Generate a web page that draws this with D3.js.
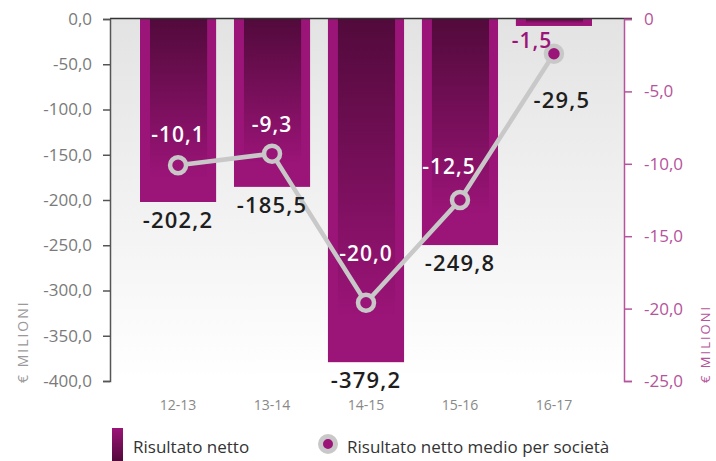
<!DOCTYPE html>
<html><head><meta charset="utf-8">
<script src="https://cdn.jsdelivr.net/npm/d3@7"></script>
<style>
html,body{margin:0;padding:0;background:#fff;}
svg{display:block;font-family:"Open Sans",sans-serif;}
</style></head>
<body><svg id="c" width="716" height="461"></svg>
<script>
const categories = ["12-13","13-14","14-15","15-16","16-17"];
const barValues = [-202.2,-185.5,-379.2,-249.8,-7.7];
const barLabels = ["-202,2","-185,5","-379,2","-249,8","-29,5"];
const pointValues = [-10.1,-9.3,-19.6,-12.5,-2.4];
const pointLabels = ["-10,1","-9,3","-20,0","-12,5","-1,5"];
const leftTicks = [0,-50,-100,-150,-200,-250,-300,-350,-400];
const rightTicks = [0,-5,-10,-15,-20,-25];
const axisTitle = "€ MILIONI";
const legendLabels = ["Risultato netto","Risultato netto medio per società"];

const svg = d3.select("#c");
const M = {left:110, right:624, top:19, bottom:381};
const magenta = "#9b1478", dark = "#520a3b", grayLine = "#c8c8c8", pink = "#b5539b";

const x = d3.scaleBand().domain(categories).range([140,592]).paddingInner(0.19).paddingOuter(0);
const yL = d3.scaleLinear().domain([-400,0]).range([M.bottom,M.top]);
const yR = d3.scaleLinear().domain([-25,0]).range([M.bottom,M.top]);
const itFmt = d => d3.format(".1f")(d).replace(".",",").replace("−","-");

const defs = svg.append("defs");
const bg = defs.append("linearGradient").attr("id","bg").attr("x1",0).attr("y1",0).attr("x2",0).attr("y2",1);
bg.append("stop").attr("offset","0%").attr("stop-color","#e3e3e3");
bg.append("stop").attr("offset","100%").attr("stop-color","#ffffff");
const ig = defs.append("linearGradient").attr("id","inner").attr("x1",0).attr("y1",0).attr("x2",0).attr("y2",1);
ig.append("stop").attr("offset","0%").attr("stop-color",dark);
ig.append("stop").attr("offset","92%").attr("stop-color",magenta);
const lg = defs.append("linearGradient").attr("id","leg").attr("x1",0).attr("y1",0).attr("x2",0).attr("y2",1);
lg.append("stop").attr("offset","0%").attr("stop-color",magenta);
lg.append("stop").attr("offset","100%").attr("stop-color",dark);

// background
svg.append("rect").attr("x",M.left).attr("y",M.top).attr("width",M.right-M.left).attr("height",M.bottom-M.top).attr("fill","url(#bg)");

// bars
const bw = x.bandwidth();
const bars = svg.append("g").selectAll("g").data(categories).join("g");
bars.append("rect").attr("x",d=>x(d)).attr("y",yL(0))
  .attr("width",bw).attr("height",(d,i)=>yL(barValues[i])-yL(0)).attr("fill",magenta);
bars.append("rect").attr("x",d=>x(d)+10).attr("y",yL(0))
  .attr("width",bw-19).attr("height",(d,i)=>Math.max(0,(yL(barValues[i])-yL(0))*0.95 - 2)).attr("fill","url(#inner)");

// top border
svg.append("line").attr("x1",M.left).attr("x2",632).attr("y1",M.top-0.5).attr("y2",M.top-0.5).attr("stroke","#333").attr("stroke-width",1.5);

// left axis
const la = svg.append("g").attr("transform",`translate(${M.left},0)`)
  .call(d3.axisLeft(yL).tickValues(leftTicks).tickSize(7).tickPadding(11).tickFormat(itFmt));
la.select(".domain").attr("stroke","#555").attr("stroke-width",1.5);
la.selectAll(".tick line").attr("stroke","#555").attr("stroke-width",1.5);
la.selectAll("text").attr("fill","#7a7a7a").attr("font-size",17).attr("font-family","Open Sans");

// right axis
const ra = svg.append("g").attr("transform",`translate(${M.right},0)`)
  .call(d3.axisRight(yR).tickValues(rightTicks).tickSize(8).tickPadding(12).tickFormat(d=> d===0 ? "0" : itFmt(d)));
ra.select(".domain").attr("stroke",pink).attr("stroke-width",1.5);
ra.selectAll(".tick line").attr("stroke",pink).attr("stroke-width",1.5);
ra.selectAll("text").attr("fill",pink).attr("font-size",17).attr("font-family","Open Sans");

// axis titles
svg.append("text").attr("transform","translate(28,383) rotate(-90)").attr("text-anchor","start")
  .attr("fill","#999").attr("font-size",14).attr("letter-spacing",2).text(axisTitle);
svg.append("text").attr("transform","translate(710,383) rotate(-90)").attr("text-anchor","start")
  .attr("fill",pink).attr("font-size",13).attr("letter-spacing",2).text(axisTitle);

// x labels
svg.append("g").selectAll("text").data(categories).join("text")
  .attr("x",d=>x(d)+bw/2).attr("y",410).attr("text-anchor","middle")
  .attr("fill","#888").attr("font-size",14).text(d=>d);

// line
const cx = d=>x(d)+bw/2;
svg.append("path").datum(categories)
  .attr("d",d3.line().x(d=>cx(d)).y((d,i)=>yR(pointValues[i])))
  .attr("fill","none").attr("stroke",grayLine).attr("stroke-width",4.5);
svg.append("g").selectAll("circle").data(categories).join("circle")
  .attr("cx",cx).attr("cy",(d,i)=>yR(pointValues[i])).attr("r",8)
  .attr("fill",magenta).attr("stroke",grayLine).attr("stroke-width",4.5);

// bar labels
const barLabelPos = (d,i) => i===4 ? [cx(d)+8, 108] : [cx(d), yL(barValues[i])+26];
svg.append("g").selectAll("text").data(categories).join("text")
  .attr("x",(d,i)=>barLabelPos(d,i)[0]).attr("y",(d,i)=>barLabelPos(d,i)[1])
  .attr("text-anchor","middle").attr("fill","#1e1e1e").attr("font-size",22).attr("font-weight",600)
  .attr("letter-spacing",1.2)
  .text((d,i)=>barLabels[i]);

// point labels
const pNudge = [-23,-22,-42,-26,-6];
const pDx = [0,0,0,-11,-22];
svg.append("g").selectAll("text").data(categories).join("text")
  .attr("x",(d,i)=>cx(d)+pDx[i]).attr("y",(d,i)=>yR(pointValues[i])+pNudge[i])
  .attr("text-anchor","middle").attr("fill",(d,i)=> i===4 ? magenta : "#fff")
  .attr("font-size",21).attr("font-weight",600).attr("letter-spacing",1)
  .text((d,i)=>pointLabels[i]);

// legend
svg.append("rect").attr("x",112).attr("y",428).attr("width",11).attr("height",33).attr("fill","url(#leg)");
svg.append("text").attr("x",133).attr("y",453).attr("fill","#333").attr("font-size",17).text(legendLabels[0]);
svg.append("circle").attr("cx",328).attr("cy",444).attr("r",7.5).attr("fill",magenta).attr("stroke","#c8c8c8").attr("stroke-width",5);
svg.append("text").attr("x",347).attr("y",453).attr("fill","#333").attr("font-size",17).text(legendLabels[1]);
</script></body></html>
